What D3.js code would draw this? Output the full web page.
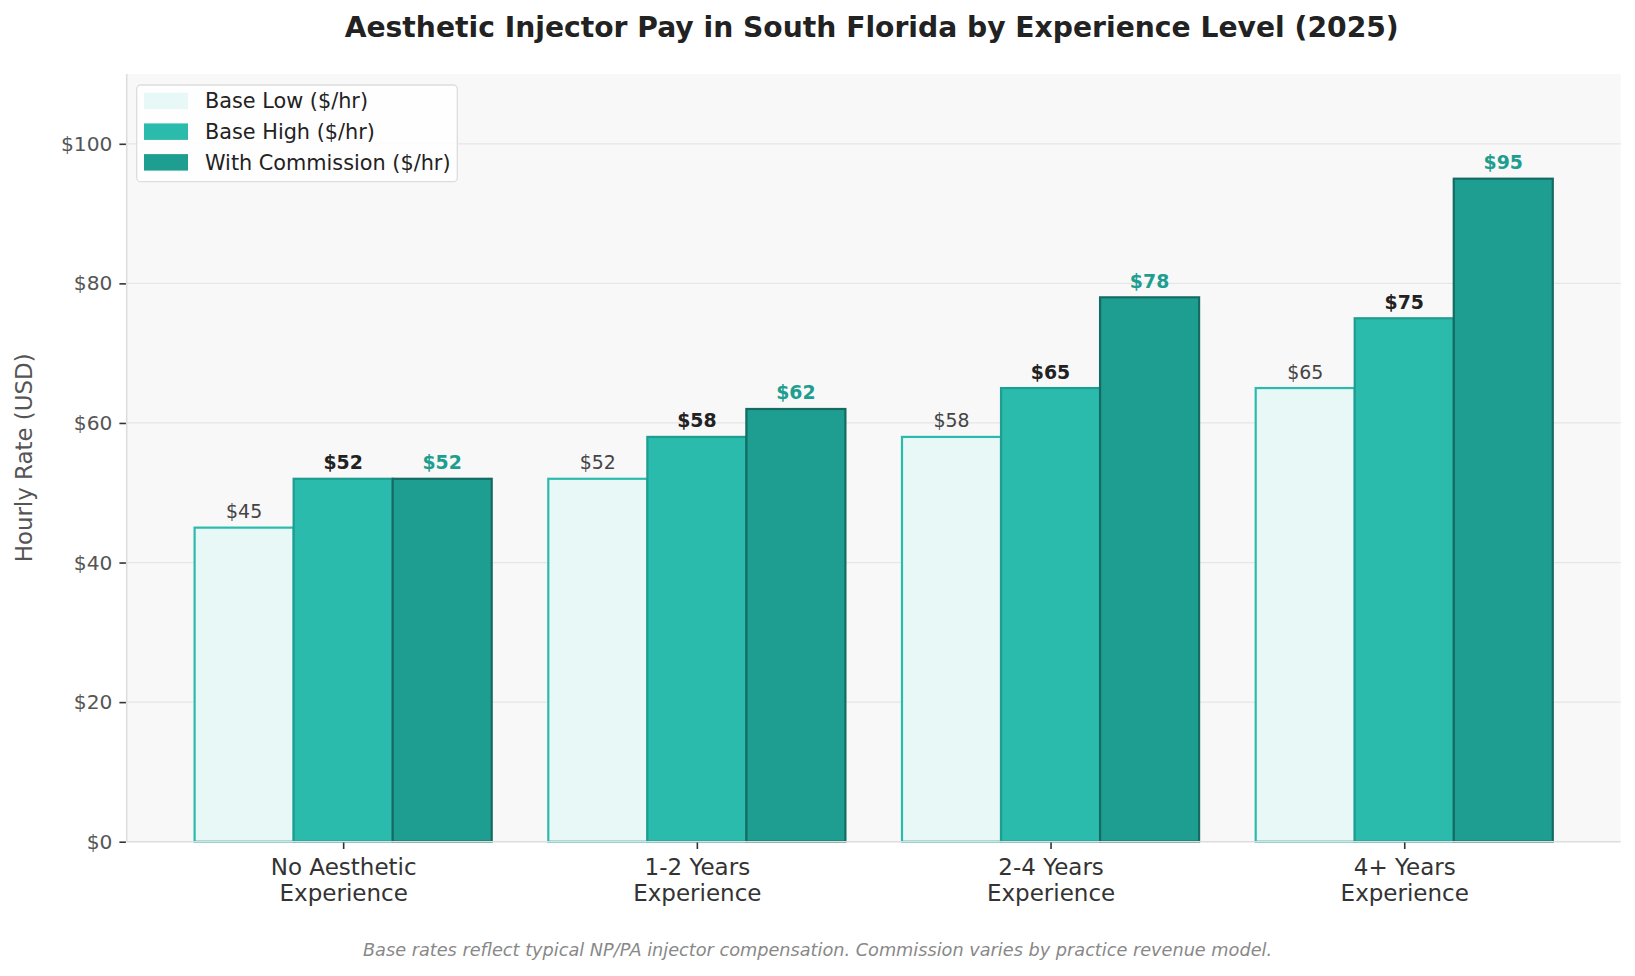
<!DOCTYPE html>
<html>
<head>
<meta charset="utf-8">
<script src="https://cdn.jsdelivr.net/npm/d3@7/dist/d3.min.js"></script>
<style>
  html, body { margin: 0; padding: 0; background: #ffffff; }
  svg { display: block; font-family: "DejaVu Sans", sans-serif; }
</style>
</head>
<body>
<svg id="chart" width="1635" height="976"></svg>
<script>
const categories = [["No Aesthetic", "Experience"], ["1-2 Years", "Experience"], ["2-4 Years", "Experience"], ["4+ Years", "Experience"]];
const seriesNames = ["Base Low ($/hr)", "Base High ($/hr)", "With Commission ($/hr)"];
const baseLow = [45, 52, 58, 65];
const baseHigh = [52, 58, 65, 75];
const withCommission = [52, 62, 78, 95];
const yTicks = [0, 20, 40, 60, 80, 100];
const titleText = "Aesthetic Injector Pay in South Florida by Experience Level (2025)";
const yLabelText = "Hourly Rate (USD)";
const captionText = "Base rates reflect typical NP/PA injector compensation. Commission varies by practice revenue model.";

const seriesValues = [baseLow, baseHigh, withCommission];
const fills = ["#e8f8f7", "#2bbbad", "#1e9e91"];
const strokes = ["#2bbbad", "#1e9e91", "#156b63"];
const labelColors = ["#444444", "#222222", "#1e9e91"];
const labelWeights = ["normal", "bold", "bold"];

const svg = d3.select("#chart");
const plot = { left: 126.7, right: 1620.7, top: 74, bottom: 841.7 };
const barW = 0.28;

const x = d3.scaleLinear().domain([-0.612, 3.612]).range([plot.left, plot.right]);
const y = d3.scaleLinear().domain([0, 110]).range([plot.bottom, plot.top]);

// plot background
svg.append("rect")
  .attr("x", plot.left).attr("y", plot.top)
  .attr("width", plot.right - plot.left).attr("height", plot.bottom - plot.top)
  .attr("fill", "#f8f8f8");

// gridlines
svg.append("g").selectAll("line").data(yTicks.filter(d => d > 0)).join("line")
  .attr("x1", plot.left).attr("x2", plot.right)
  .attr("y1", d => y(d)).attr("y2", d => y(d))
  .attr("stroke", "#e6e6e6").attr("stroke-width", 1.2);

// bars
seriesValues.forEach((vals, s) => {
  const off = (s - 1) * barW;
  svg.append("g").selectAll("rect").data(vals).join("rect")
    .attr("x", (d, i) => x(i + off - barW / 2))
    .attr("width", (d, i) => x(i + off + barW / 2) - x(i + off - barW / 2))
    .attr("y", d => y(d))
    .attr("height", d => y(0) - y(d))
    .attr("fill", fills[s])
    .attr("stroke", strokes[s])
    .attr("stroke-width", 2.2);
  svg.append("g").selectAll("text").data(vals).join("text")
    .attr("x", (d, i) => x(i + off))
    .attr("y", d => y(d) - 9.5)
    .attr("text-anchor", "middle")
    .attr("font-size", "18.9px")
    .attr("font-weight", labelWeights[s])
    .attr("fill", labelColors[s])
    .text(d => "$" + d);
});

// spines
svg.append("line").attr("x1", plot.left).attr("x2", plot.left)
  .attr("y1", plot.top).attr("y2", plot.bottom)
  .attr("stroke", "#dddddd").attr("stroke-width", 1.6);
svg.append("line").attr("x1", plot.left).attr("x2", plot.right)
  .attr("y1", plot.bottom).attr("y2", plot.bottom)
  .attr("stroke", "#dddddd").attr("stroke-width", 1.6);

// y axis
const yAxis = d3.axisLeft(y).tickValues(yTicks).tickSize(6.5).tickPadding(7)
  .tickFormat(d => "$" + d);
const gy = svg.append("g").attr("transform", `translate(${plot.left - 0.8},0)`).call(yAxis);
gy.select(".domain").remove();
gy.selectAll(".tick line").attr("stroke", "#333333").attr("stroke-width", 1.6);
gy.selectAll(".tick text").attr("fill", "#555555").attr("font-size", "20.2px")
  .attr("font-family", "DejaVu Sans, sans-serif");

// x axis
const xAxis = d3.axisBottom(x).tickValues(d3.range(categories.length)).tickSize(6.5).tickFormat(() => "");
const gx = svg.append("g").attr("transform", `translate(0,${plot.bottom + 0.8})`).call(xAxis);
gx.select(".domain").remove();
gx.selectAll(".tick line").attr("stroke", "#333333").attr("stroke-width", 1.6);
gx.selectAll(".tick").each(function(d) {
  const t = d3.select(this).append("text")
    .attr("fill", "#333333").attr("font-size", "23px")
    .attr("text-anchor", "middle")
    .attr("font-family", "DejaVu Sans, sans-serif");
  categories[d].forEach((line, k) => {
    t.append("tspan").attr("x", 0).attr("y", 32.5 + k * 26).text(line);
  });
});

// y label
svg.append("text")
  .attr("transform", `translate(32,${(plot.top + plot.bottom) / 2}) rotate(-90)`)
  .attr("text-anchor", "middle")
  .attr("font-size", "22.9px").attr("fill", "#555555")
  .text(yLabelText);

// title
svg.append("text")
  .attr("x", (plot.left + plot.right) / 2 - 2).attr("y", 37)
  .attr("text-anchor", "middle")
  .attr("font-size", "28.2px").attr("font-weight", "bold").attr("fill", "#222222")
  .text(titleText);

// caption
svg.append("text")
  .attr("x", 817.5).attr("y", 956)
  .attr("text-anchor", "middle")
  .attr("font-size", "17.7px").attr("font-style", "italic").attr("fill", "#888888")
  .text(captionText);

// legend
const lg = svg.append("g");
lg.append("rect").attr("x", 136.7).attr("y", 85).attr("width", 320.6).attr("height", 96.7)
  .attr("rx", 4).attr("fill", "#ffffff").attr("fill-opacity", 0.85)
  .attr("stroke", "#dddddd").attr("stroke-width", 1.3);
seriesNames.forEach((name, s) => {
  const yy = 92.7 + s * 30.7;
  lg.append("rect").attr("x", 144).attr("y", yy).attr("width", 44).attr("height", 16.5)
    .attr("fill", fills[s]);
  lg.append("text").attr("x", 205).attr("y", yy + 15.4)
    .attr("font-size", "20.8px").attr("fill", "#222222").text(name);
});
</script>
</body>
</html>
